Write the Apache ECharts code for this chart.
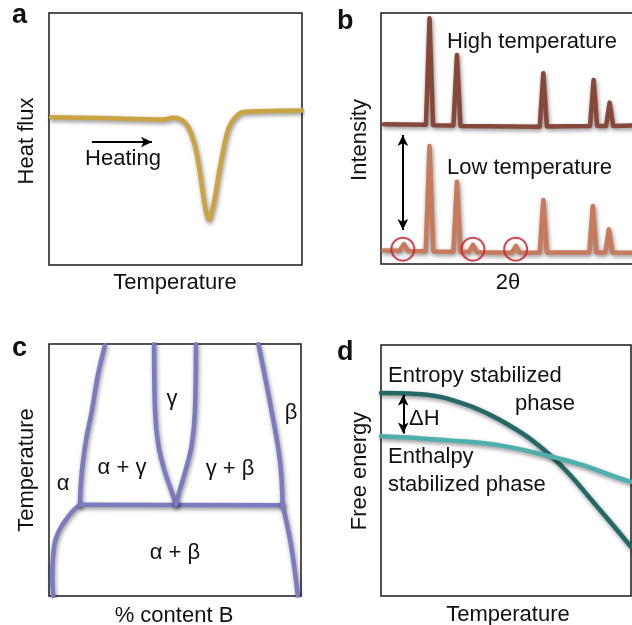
<!DOCTYPE html>
<html>
<head>
<meta charset="utf-8">
<script src="https://cdn.jsdelivr.net/npm/echarts@6/dist/echarts.min.js"></script>
<style>html,body{margin:0;padding:0;background:#fff;}#chart{width:632px;height:625px;}</style>
</head>
<body>
<div id="chart"></div>
<script>
// ---- Panel a: DSC heat flux curve ----
const dscCurve = [[0.8,58.6],[20.2,58.3],[45.8,57.7],[48.6,58.4],[51.8,57.9],[54.2,56.0],[56.1,52.4],[58.1,45.6],[59.7,36.5],[61.7,23.0],[63.2,17.9],[64.8,23.0],[66.4,31.7],[67.6,38.9],[70.4,52.4],[72.7,57.5],[76.7,60.7],[86.2,61.1],[100,61.3]];
const heatingArrow = [[17,48.8],[40.7,48.8]];

// ---- Panel b: XRD patterns ----
const xrdHigh = [[1.2,55.7],[17.7,55.5],[19.1,97.9],[20.5,55.3],[28.5,55.2],[29.9,83.3],[31.3,55.0],[62.5,54.7],[63.9,76.0],[65.3,54.8],[82.3,55.0],[83.7,73.3],[85.1,55.0],[88.6,55.0],[90.0,64.3],[91.4,55.0],[100,55.2]];
const xrdLow = [[0.9,5.4],[7.3,5.3],[9.0,7.9],[10.7,5.2],[17.6,5.1],[19.1,47.0],[20.6,5.0],[28.5,4.9],[29.9,32.8],[31.3,4.8],[34.6,4.8],[36.2,7.6],[37.8,4.7],[51.6,4.5],[53.1,7.2],[54.6,4.5],[62.5,4.6],[63.9,25.5],[65.3,4.6],[82.0,4.6],[83.4,23.1],[84.8,4.6],[88.3,4.6],[89.7,13.8],[91.1,4.6],[100,4.5]];
const extraPeaks = [[8.6,5.9],[36.2,5.9],[53.0,5.9]];
const shiftArrow = [[8.6,51.4],[8.6,13.5]];

// ---- Panel c: phase diagram boundaries ----
const alphaUpper = [[22.2,99.5],[19.4,87.7],[16.9,73.0],[14.7,61.9],[13.1,50.0],[12.5,42.1],[12.3,36.2]];
const alphaLower = [[12.3,36.2],[9.0,33.3],[4.4,26.7],[2.1,20.2],[1.3,6.9],[1.7,0]];
const eutectoid = [[12.3,36.2],[50.4,36.1],[92.7,36.0]];
const gammaLeft = [[41.7,99.9],[42.1,73.0],[43.4,59.8],[46.0,49.2],[48.7,41.3],[50.4,36.2]];
const gammaRight = [[58.3,99.9],[57.9,73.0],[56.6,59.8],[54.0,49.2],[51.7,41.3],[50.4,36.2]];
const betaUpper = [[83.1,99.9],[88.4,73.0],[91.7,53.2],[92.7,36.2]];
const betaLower = [[92.7,36.1],[95.6,22.7],[97.6,9.5],[98.7,0.3]];

// ---- Panel d: free energy curves ----
const entropyPhase = [[0,80.9],[14,80.5],[27.3,78.4],[47.6,70.1],[68.3,55.5],[87.6,34.3],[100,19.6]];
const enthalpyPhase = [[0,63.6],[14,62.9],[27.3,62.0],[47.6,60.0],[68.3,55.5],[80.7,52.1],[94,47.4],[100,45.5]];
const deltaHArrow = [[8.9,80.2],[8.9,64.7]];

const FONT = 'Liberation Sans, Arial, Helvetica, sans-serif';
const shadow = {shadowColor:'rgba(0,0,0,0.45)', shadowBlur:4, shadowOffsetX:1, shadowOffsetY:2};

const grids = [
  {left:49, top:13, width:253, height:252},
  {left:381, top:13, width:254, height:251},
  {left:49, top:344, width:252, height:252},
  {left:381, top:345, width:250, height:251}
].map(g => Object.assign({show:true, borderColor:'#1a1a1a', borderWidth:1.5, backgroundColor:'#fff', outerBoundsMode:'none', containLabel:false}, g));

const xAxes = grids.map((g,i)=>({type:'value', gridIndex:i, min:0, max:100, show:false}));
const yAxes = grids.map((g,i)=>({type:'value', gridIndex:i, min:0, max:100, show:false}));

function line(data, idx, color, smooth, extra){
  return Object.assign({
    type:'line', xAxisIndex:idx, yAxisIndex:idx, data:data, showSymbol:false, symbol:'none',
    smooth:smooth, silent:true,
    lineStyle:Object.assign({color:color, width:4.5, cap:'round', join:'round'}, shadow)
  }, extra||{});
}
function arrow(pts, idx, both){
  return {
    type:'line', xAxisIndex:idx, yAxisIndex:idx, data:[], silent:true,
    markLine:{silent:true, symbol: both?['arrow','arrow']:['none','arrow'], symbolSize:[8,11],
      label:{show:false}, lineStyle:{color:'#000', width:2, type:'solid'},
      data:[[{coord:pts[0]},{coord:pts[1]}]]}
  };
}

const series = [
  line(dscCurve, 0, '#C9A440', 0.35),
  arrow(heatingArrow, 0, false),
  line(xrdHigh, 1, '#86483A', false),
  line(xrdLow, 1, '#C77B5C', false),
  arrow(shiftArrow, 1, true),
  {type:'scatter', xAxisIndex:1, yAxisIndex:1, data:extraPeaks, symbol:'circle', symbolSize:23, silent:true,
   itemStyle:{color:'rgba(0,0,0,0)', borderColor:'#C8202F', borderWidth:2}, z:5},
  line(alphaUpper, 2, '#7B7BC2', 0.4),
  line(alphaLower, 2, '#7B7BC2', 0.4),
  line(eutectoid, 2, '#7B7BC2', false),
  line(gammaLeft, 2, '#7B7BC2', 0.4),
  line(gammaRight, 2, '#7B7BC2', 0.4),
  line(betaUpper, 2, '#7B7BC2', 0.4),
  line(betaLower, 2, '#7B7BC2', 0.4),
  line(entropyPhase, 3, '#236A65', 0.4),
  line(enthalpyPhase, 3, '#4DB0AC', 0.4),
  arrow(deltaHArrow, 3, true)
];

function txt(text, x, y, opts){
  opts = opts || {};
  return {
    type:'text', x:x, y:y, rotation:opts.rot||0, z:100, silent:true,
    style:{text:text, font:(opts.bold?'bold ':'')+(opts.size||22)+'px '+FONT, fill:'#111',
      textAlign:opts.align||'center', textVerticalAlign:'middle',
      align:opts.align||'center', verticalAlign:'middle'}
  };
}

const graphic = [
  txt('a', 12, 16, {bold:true, size:27, align:'left'}),
  txt('b', 337, 22, {bold:true, size:27, align:'left'}),
  txt('c', 12, 349, {bold:true, size:27, align:'left'}),
  txt('d', 337, 353, {bold:true, size:27, align:'left'}),
  txt('Heat flux', 27, 141, {rot:Math.PI/2}),
  txt('Temperature', 175, 283),
  txt('Intensity', 360, 140, {rot:Math.PI/2}),
  txt('2θ', 508, 283),
  txt('Temperature', 27, 470, {rot:Math.PI/2}),
  txt('% content B', 174, 616),
  txt('Free energy', 360, 471, {rot:Math.PI/2}),
  txt('Temperature', 508, 615),
  txt('Heating', 123, 159),
  txt('High temperature', 447, 42, {align:'left'}),
  txt('Low temperature', 447, 168, {align:'left'}),
  txt('γ', 172, 399),
  txt('β', 291, 413),
  txt('α + γ', 122, 468),
  txt('γ + β', 230, 469),
  txt('α', 63, 484),
  txt('α + β', 175, 553),
  txt('Entropy stabilized', 388, 376, {align:'left'}),
  txt('phase', 515, 404, {align:'left'}),
  txt('ΔH', 409, 419, {align:'left'}),
  txt('Enthalpy', 388, 457, {align:'left'}),
  txt('stabilized phase', 388, 485, {align:'left'})
];

const chart = echarts.init(document.getElementById('chart'), null, {renderer:'canvas'});
chart.setOption({
  animation:false,
  backgroundColor:'#fff',
  grid:grids, xAxis:xAxes, yAxis:yAxes,
  series:series,
  graphic:graphic
});
</script>
</body>
</html>
